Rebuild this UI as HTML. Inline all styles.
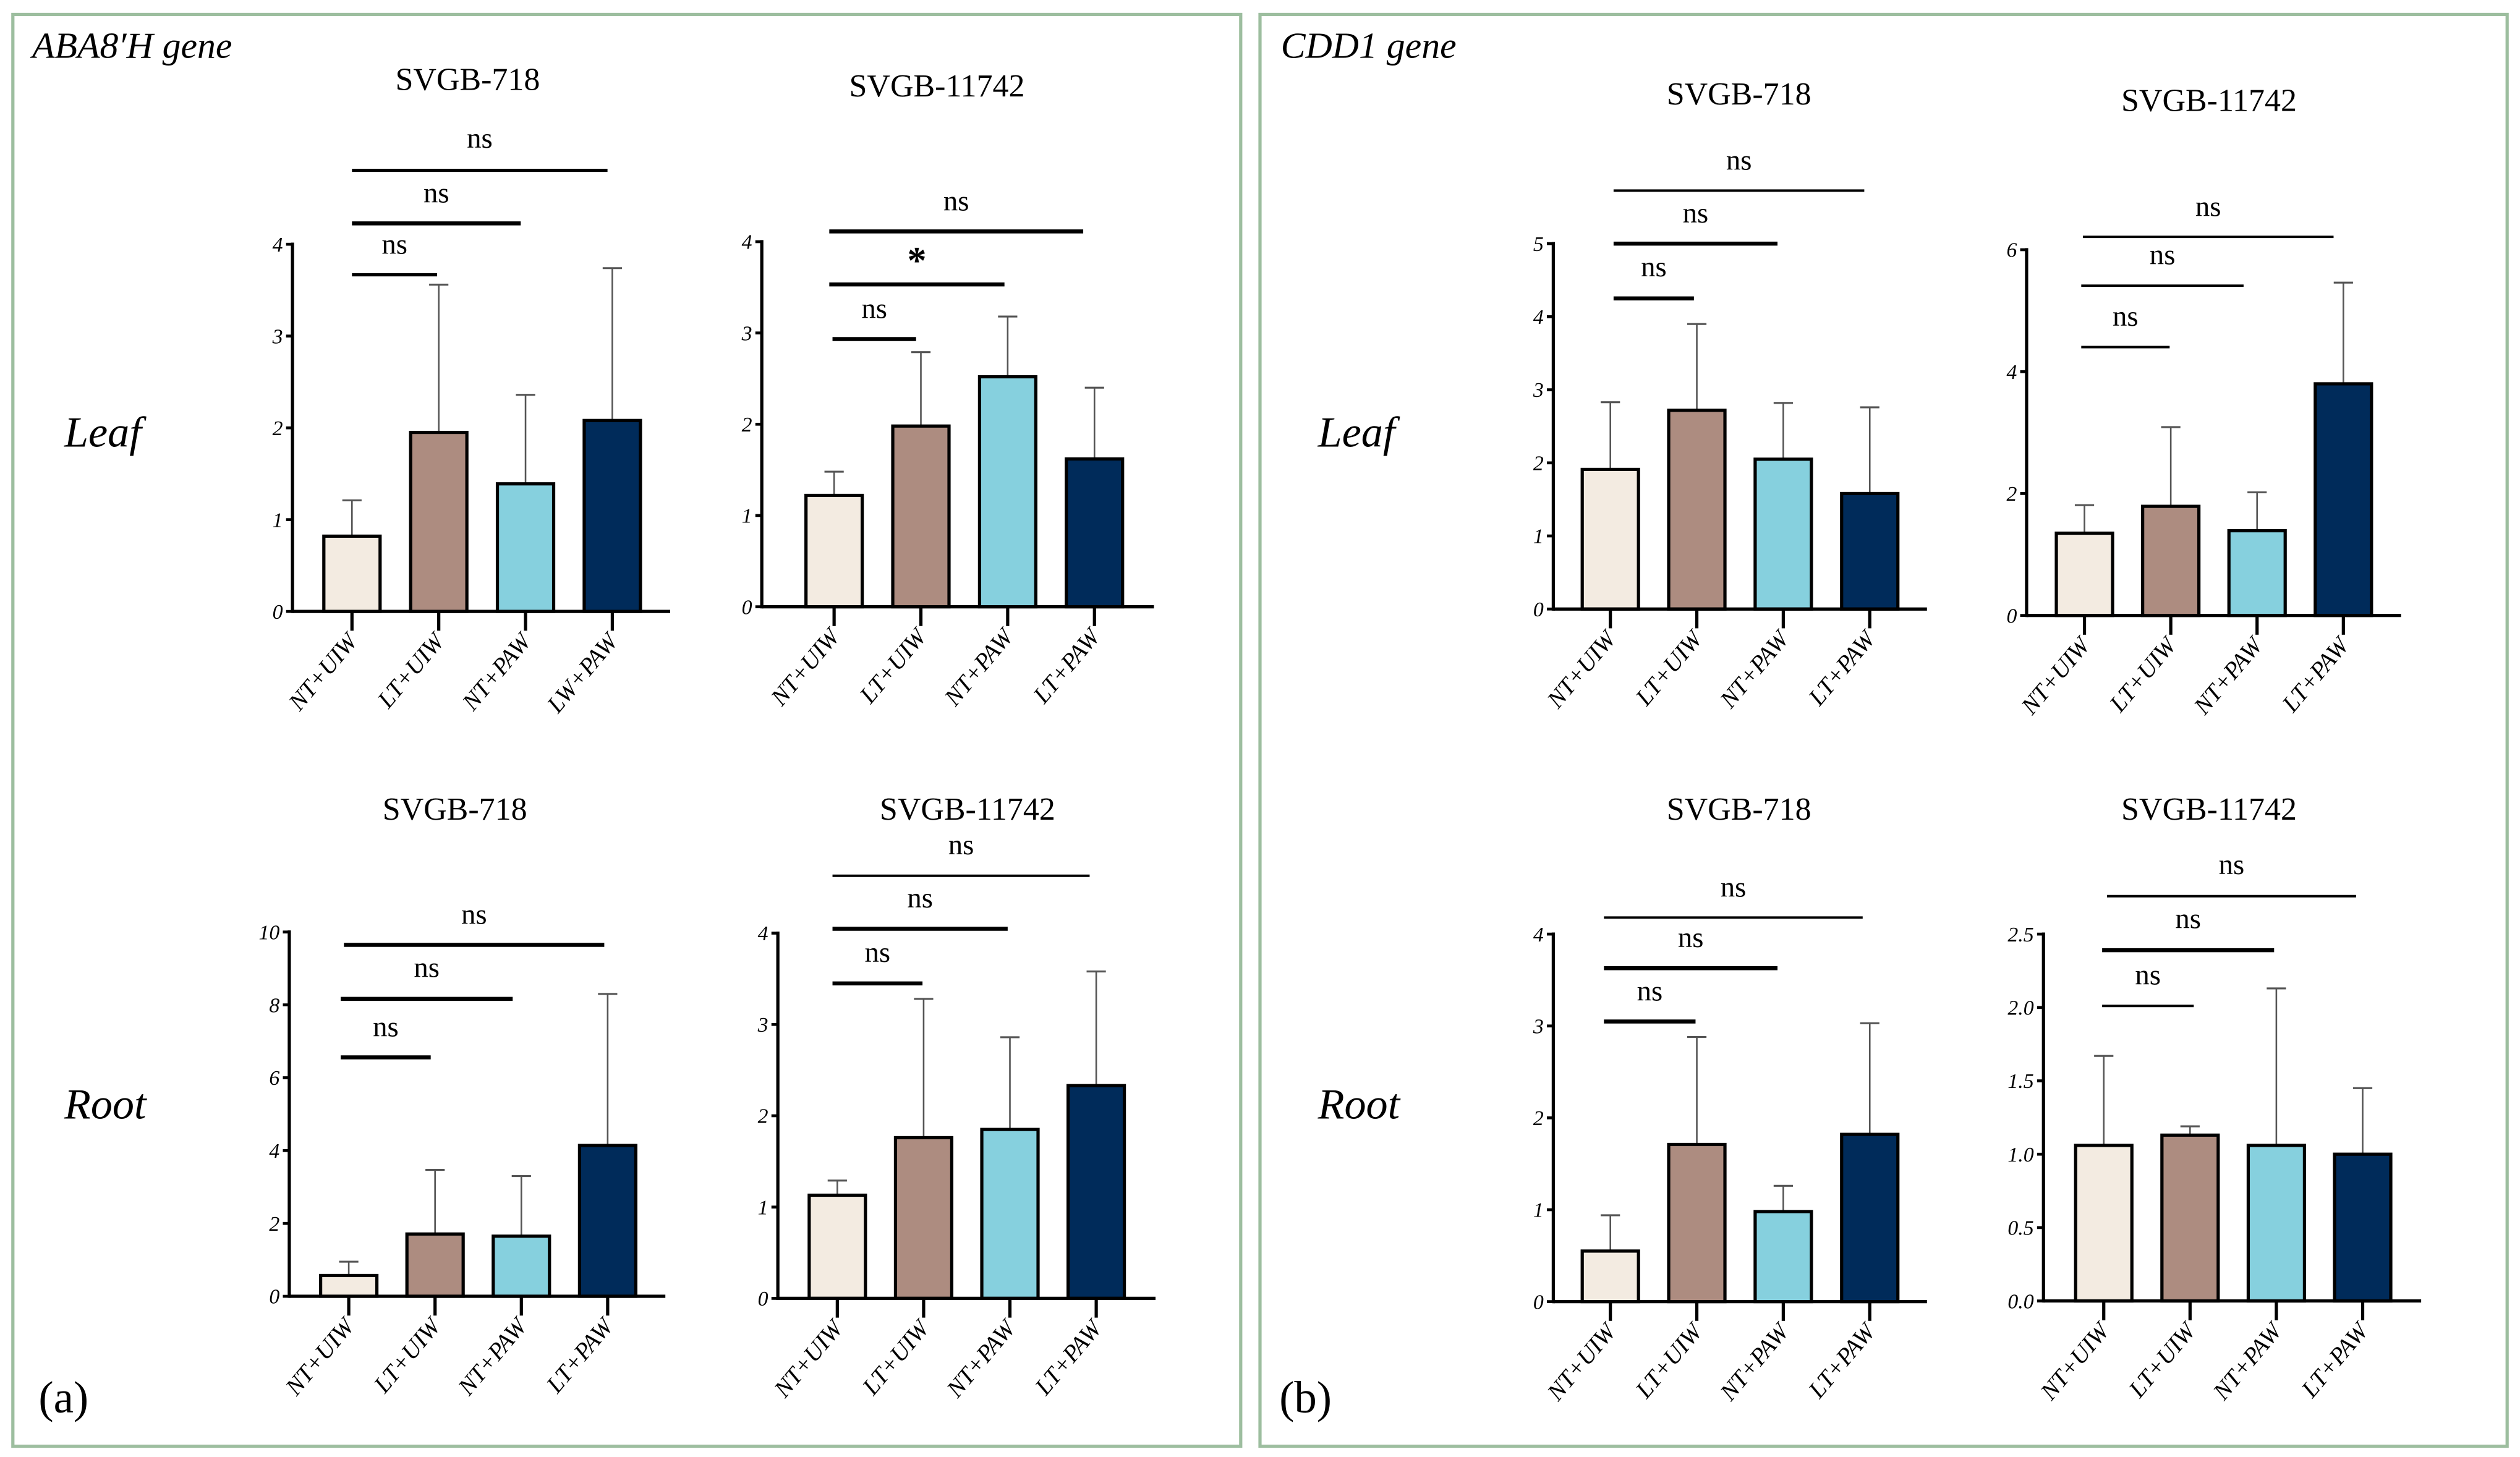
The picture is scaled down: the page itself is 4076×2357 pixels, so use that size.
<!DOCTYPE html>
<html><head><meta charset="utf-8">
<style>
html,body{margin:0;padding:0;background:#fff;}
svg{display:block;}
text{font-family:"Liberation Serif",serif;}
</style></head>
<body>
<svg id="fig" width="4076" height="2357" viewBox="0 0 1568 906.7" xmlns="http://www.w3.org/2000/svg">
<rect x="0" y="0" width="1568" height="906.7" fill="#fff"/>
<rect x="8" y="9" width="764" height="891" fill="none" stroke="#9dbe9f" stroke-width="2"/>
<rect x="784" y="9" width="776" height="891" fill="none" stroke="#9dbe9f" stroke-width="2"/>
<text x="20" y="36" font-size="23" font-style="italic">ABA8′H gene</text>
<text x="797" y="36" font-size="23" font-style="italic">CDD1 gene</text>
<text x="40" y="278" font-size="27" font-style="italic">Leaf</text>
<text x="40" y="696" font-size="27" font-style="italic">Root</text>
<text x="820" y="278" font-size="27" font-style="italic">Leaf</text>
<text x="820" y="696" font-size="27" font-style="italic">Root</text>
<text x="24" y="879" font-size="28" font-family="Liberation Sans">(a)</text>
<text x="796" y="879" font-size="28" font-family="Liberation Sans">(b)</text>
<g id="charts"></g>
</svg>
<script>
// ---- data ----
const categories = ["NT+UIW","LT+UIW","NT+PAW","LT+PAW"];
const categoriesAba718Leaf = ["NT+UIW","LT+UIW","NT+PAW","LW+PAW"];
const barColors = ["#f3ebe1","#ad8c80","#86d0de","#002b5a"];

const aba718LeafMeans = [0.82, 1.95, 1.39, 2.08];
const aba718LeafErrTop = [1.21, 3.56, 2.36, 3.74];
const aba11742LeafMeans = [1.22, 1.98, 2.52, 1.62];
const aba11742LeafErrTop = [1.48, 2.79, 3.18, 2.40];
const aba718RootMeans = [0.57, 1.71, 1.65, 4.14];
const aba718RootErrTop = [0.95, 3.47, 3.30, 8.30];
const aba11742RootMeans = [1.13, 1.76, 1.85, 2.33];
const aba11742RootErrTop = [1.29, 3.28, 2.86, 3.58];
const cdd718LeafMeans = [1.91, 2.72, 2.05, 1.58];
const cdd718LeafErrTop = [2.83, 3.90, 2.82, 2.76];
const cdd11742LeafMeans = [1.35, 1.79, 1.39, 3.80];
const cdd11742LeafErrTop = [1.81, 3.09, 2.02, 5.46];
const cdd718RootMeans = [0.55, 1.71, 0.98, 1.82];
const cdd718RootErrTop = [0.94, 2.88, 1.26, 3.03];
const cdd11742RootMeans = [1.06, 1.13, 1.06, 1.00];
const cdd11742RootErrTop = [1.67, 1.19, 2.13, 1.45];

const ticks4 = [0,1,2,3,4];
const ticks5 = [0,1,2,3,4,5];
const ticks6 = [0,2,4,6];
const ticks10 = [0,2,4,6,8,10];
const ticks25 = [0,0.5,1.0,1.5,2.0,2.5];
const ticks25Labels = ["0.0","0.5","1.0","1.5","2.0","2.5"];

// ---- layout (geometry only) ----
const charts = [
 {name:"aba-718-leaf", title:"SVGB-718", tx:291, ty:56, ax:182, y0:380.5, yTopPx:152, yMax:4, ticks:ticks4, cats:categoriesAba718Leaf, means:aba718LeafMeans, err:aba718LeafErrTop, bx0:219, bstep:54, xEnd:417,
  br:[[219,272,171,"ns",154,2],[219,324,139,"ns",122,2.5],[219,378,106,"ns",88,2]]},
 {name:"aba-11742-leaf", title:"SVGB-11742", tx:583, ty:60, ax:474, y0:377.6, yTopPx:150.4, yMax:4, ticks:ticks4, cats:categories, means:aba11742LeafMeans, err:aba11742LeafErrTop, bx0:519, bstep:54, xEnd:718,
  br:[[518,570,211,"ns",194,2.5],[516,625,177,"*",160,2.5],[516,674,144,"ns",127,2.5]]},
 {name:"aba-718-root", title:"SVGB-718", tx:283, ty:510, ax:180, y0:806.7, yTopPx:580, yMax:10, ticks:ticks10, cats:categories, means:aba718RootMeans, err:aba718RootErrTop, bx0:217, bstep:53.7, xEnd:414,
  br:[[212,268,658,"ns",641,2.5],[212,319,621.6,"ns",604,2.5],[214,376,588,"ns",571,2.5]]},
 {name:"aba-11742-root", title:"SVGB-11742", tx:602, ty:510, ax:484, y0:808, yTopPx:580.7, yMax:4, ticks:ticks4, cats:categories, means:aba11742RootMeans, err:aba11742RootErrTop, bx0:521, bstep:53.7, xEnd:719,
  br:[[518,574,612,"ns",594.5,2.5],[518,627,578,"ns",560.7,2.5],[518,678,545,"ns",527.7,1.5]]},
 {name:"cdd-718-leaf", title:"SVGB-718", tx:1082, ty:65, ax:966.5, y0:379, yTopPx:151.6, yMax:5, ticks:ticks5, cats:categories, means:cdd718LeafMeans, err:cdd718LeafErrTop, bx0:1002, bstep:53.8, xEnd:1199,
  br:[[1004,1054,185.7,"ns",168,2.5],[1004,1106,151.6,"ns",134.5,2.5],[1004,1160,118.6,"ns",101.5,1.5]]},
 {name:"cdd-11742-leaf", title:"SVGB-11742", tx:1374.5, ty:69, ax:1261, y0:383, yTopPx:155.4, yMax:6, ticks:ticks6, cats:categories, means:cdd11742LeafMeans, err:cdd11742LeafErrTop, bx0:1297, bstep:53.7, xEnd:1494,
  br:[[1295,1350,216,"ns",198.7,1.5],[1295,1396,177.8,"ns",160.4,1.5],[1296,1452,147.4,"ns",130.4,1.5]]},
 {name:"cdd-718-root", title:"SVGB-718", tx:1082, ty:510, ax:966.5, y0:810, yTopPx:581.3, yMax:4, ticks:ticks4, cats:categories, means:cdd718RootMeans, err:cdd718RootErrTop, bx0:1002, bstep:53.8, xEnd:1199,
  br:[[998,1055,635.7,"ns",618.6,2.5],[998,1106,602.5,"ns",585.4,2.5],[998,1159,571,"ns",554,1.5]]},
 {name:"cdd-11742-root", title:"SVGB-11742", tx:1374.5, ty:510, ax:1271.5, y0:809.6, yTopPx:581.3, yMax:2.5, ticks:ticks25, tickLabels:ticks25Labels, cats:categories, means:cdd11742RootMeans, err:cdd11742RootErrTop, bx0:1309, bstep:53.7, xEnd:1506.5,
  br:[[1308,1365,626,"ns",608.6,1.5],[1308,1415,591.3,"ns",573.6,2.5],[1311,1466,557.7,"ns",540,1.5]]}
];

const NS = "http://www.w3.org/2000/svg";
const root = document.getElementById("charts");
function mk(tag, attrs, parent){
  const e = document.createElementNS(NS, tag);
  for (const k in attrs) e.setAttribute(k, attrs[k]);
  parent.appendChild(e);
  return e;
}

charts.forEach(c => {
  const g = mk("g", {}, root);
  
  
  const yScale = v => c.y0 - (v / c.yMax) * (c.y0 - c.yTopPx);
  const xScale = i => c.bx0 + i * c.bstep;
  const bw = 35;

  const t = mk("text", {x:c.tx, y:c.ty, "font-size":20, "text-anchor":"middle"}, g);
  t.textContent = c.title;
  
  

  c.ticks.forEach((v, k) => {
    const y = yScale(v);
    const tk = mk("line", {x1:c.ax-4, x2:c.ax, y1:y, y2:y, stroke:"#000", "stroke-width":1.8}, g);
    
    
    const tl = mk("text", {x:c.ax-6, y:y+4.5, "font-size":13, "font-style":"italic", "text-anchor":"end"}, g);
    tl.textContent = c.tickLabels ? c.tickLabels[k] : String(v);
    
    
  });

  c.means.forEach((m, i) => {
    const cx = xScale(i);
    const top = yScale(c.err[i]);
    const ey = mk("line", {x1:cx, x2:cx, y1:top, y2:yScale(m), stroke:"#555", "stroke-width":1}, g);
    
    
    const cap = mk("line", {x1:cx-6, x2:cx+6, y1:top, y2:top, stroke:"#555", "stroke-width":1.2}, g);
    
    
    const r = mk("rect", {x:cx-bw/2, y:yScale(m), width:bw, height:c.y0-yScale(m), fill:barColors[i], stroke:"#000", "stroke-width":2}, g);
    
    
    const xt = mk("line", {x1:cx, x2:cx, y1:c.y0, y2:c.y0+12, stroke:"#000", "stroke-width":2}, g);
    
    
    const lx = cx + 4, ly = c.y0 + 19;
    const cl = mk("text", {x:lx, y:ly, "font-size":15, "font-style":"italic", "text-anchor":"end", transform:"rotate(-50 "+lx+" "+ly+")"}, g);
    cl.textContent = c.cats[i];
    
    
  });

  const ya = mk("line", {x1:c.ax, x2:c.ax, y1:c.yTopPx-1, y2:c.y0+1, stroke:"#000", "stroke-width":2}, g);
  
  
  const xa = mk("line", {x1:c.ax, x2:c.xEnd, y1:c.y0, y2:c.y0, stroke:"#000", "stroke-width":2}, g);
  
  

  c.br.forEach(b => {
    const bl = mk("line", {x1:b[0], x2:b[1], y1:b[2], y2:b[2], stroke:"#000", "stroke-width":b[5]}, g);
    
    
    const st = mk("text", {x:(b[0]+b[1])/2, y:b[4]+(b[3]==="*"?10:4), "font-size":b[3]==="*"?24:18, "font-weight":b[3]==="*"?"bold":"normal", "text-anchor":"middle"}, g);
    st.textContent = b[3];
    
    
  });
});
</script>
</body></html>
